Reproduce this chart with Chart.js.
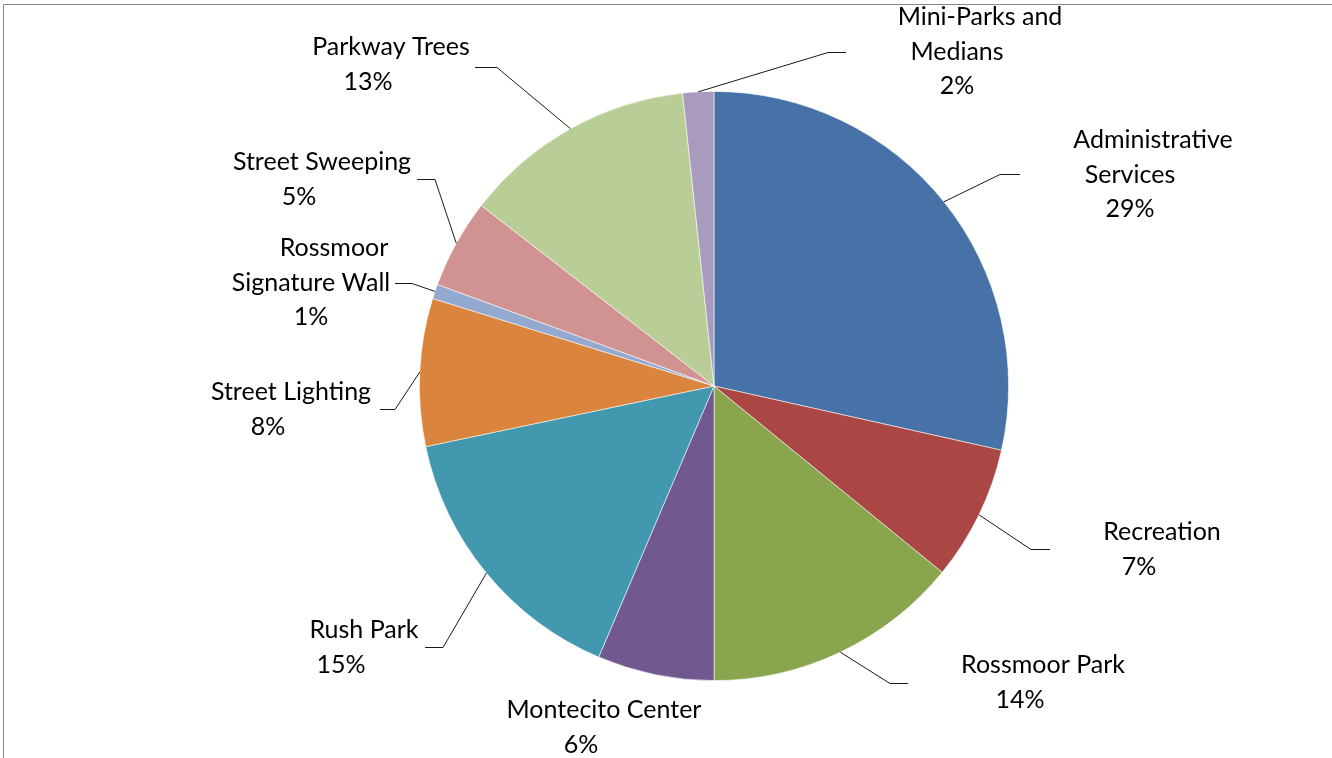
<!DOCTYPE html>
<html>
<head>
<meta charset="utf-8">
<script src="https://cdn.jsdelivr.net/npm/chart.js@4/dist/chart.umd.min.js"></script>
<style>
  html, body { margin: 0; padding: 0; background: #fff; }
  canvas { display: block; }
</style>
</head>
<body>
<canvas id="budget" width="1332" height="758"></canvas>
<script>
// Slice order runs clockwise from 12 o'clock
const categories = [
  "Administrative Services", "Recreation", "Rossmoor Park", "Montecito Center",
  "Rush Park", "Street Lighting", "Rossmoor Signature Wall", "Street Sweeping",
  "Parkway Trees", "Mini-Parks and Medians"
]
const shares = [28.5, 7.4, 14.1, 6.4, 15.3, 8.1, 0.8, 4.9, 12.8, 1.7]
const sliceColors = [
  "#4672A8", "#AA4644", "#89A54E", "#71588F", "#4298AF",
  "#DB843D", "#93A9CF", "#D19392", "#B9CD96", "#A99BBD"
]

// label text broken into lines the way they wrap on the chart
const labelLines = [
  ["Administrative", "Services"], ["Recreation"], ["Rossmoor Park"], ["Montecito Center"],
  ["Rush Park"], ["Street Lighting"], ["Rossmoor", "Signature Wall"], ["Street Sweeping"],
  ["Parkway Trees"], ["Mini-Parks and", "Medians"]
]

// where each label sits (x = centre of lower lines, y = first line) and its leader elbow/end
const labelLayout = [
  { x: 1130, y: 140, elbow: [1000, 174], end: 1020 },
  { x: 1139, y: 532, elbow: [1031, 549], end: 1050 },
  { x: 1020, y: 665, elbow: [890, 683], end: 908 },
  { x: 581, y: 710, elbow: null },
  { x: 341, y: 630, elbow: [443, 647], end: 425 },
  { x: 268, y: 392, elbow: [395, 409], end: 380 },
  { x: 311, y: 248, elbow: [412, 283], end: 395 },
  { x: 299, y: 162, elbow: [435, 179], end: 417 },
  { x: 368, y: 47, elbow: [497, 67], end: 475 },
  { x: 957, y: 17, elbow: [828, 52], end: 846 }
]

const LINE_H = 34.6
const FIRST_LINE_SHIFT = 23

const frame = {
  id: "frame",
  beforeDraw(chart) {
    const ctx = chart.ctx
    ctx.save()
    ctx.fillStyle = "#fff"
    ctx.fillRect(0, 0, chart.width, chart.height)
    ctx.strokeStyle = "#868686"
    ctx.lineWidth = 1
    ctx.beginPath()
    ctx.moveTo(3.5, chart.height)
    ctx.lineTo(3.5, 4.5)
    ctx.lineTo(chart.width, 4.5)
    ctx.stroke()
    ctx.restore()
  }
}

const sliceLabels = {
  id: "sliceLabels",
  afterDraw(chart) {
    const ctx = chart.ctx
    const arcs = chart.getDatasetMeta(0).data
    const total = shares.reduce((a, b) => a + b, 0)
    ctx.save()
    // leader lines
    ctx.strokeStyle = "#1a1a1a"
    ctx.lineWidth = 1
    arcs.forEach((arc, i) => {
      const lay = labelLayout[i]
      if (!lay.elbow) return
      const mid = (arc.startAngle + arc.endAngle) / 2
      const px = arc.x + arc.outerRadius * Math.cos(mid)
      const py = arc.y + arc.outerRadius * Math.sin(mid)
      ctx.beginPath()
      ctx.moveTo(px, py)
      ctx.lineTo(lay.elbow[0], lay.elbow[1] + 0.5)
      ctx.lineTo(lay.end, lay.elbow[1] + 0.5)
      ctx.stroke()
    })
    // text
    ctx.fillStyle = "#000"
    ctx.font = "25px Lato"
    ctx.textAlign = "center"
    ctx.textBaseline = "middle"
    categories.forEach((c, i) => {
      const lay = labelLayout[i]
      const lines = labelLines[i].concat([Math.round(shares[i] * 100 / total) + "%"])
      lines.forEach((t, k) => {
        const x = k == 0 ? lay.x + FIRST_LINE_SHIFT : lay.x
        ctx.fillText(t, x, lay.y + k * LINE_H)
      })
    })
    ctx.restore()
  }
}

new Chart(document.getElementById("budget"), {
  type: "pie",
  data: {
    labels: categories,
    datasets: [{
      data: shares,
      backgroundColor: sliceColors,
      borderColor: "rgba(255,255,255,0.7)",
      borderWidth: 0.8
    }]
  },
  options: {
    responsive: false,
    animation: false,
    layout: {
      padding: { left: 419, right: 323, top: 91, bottom: 77 }
    },
    plugins: {
      legend: { display: false },
      tooltip: { enabled: false }
    }
  },
  plugins: [frame, sliceLabels]
})
</script>
</body>
</html>
